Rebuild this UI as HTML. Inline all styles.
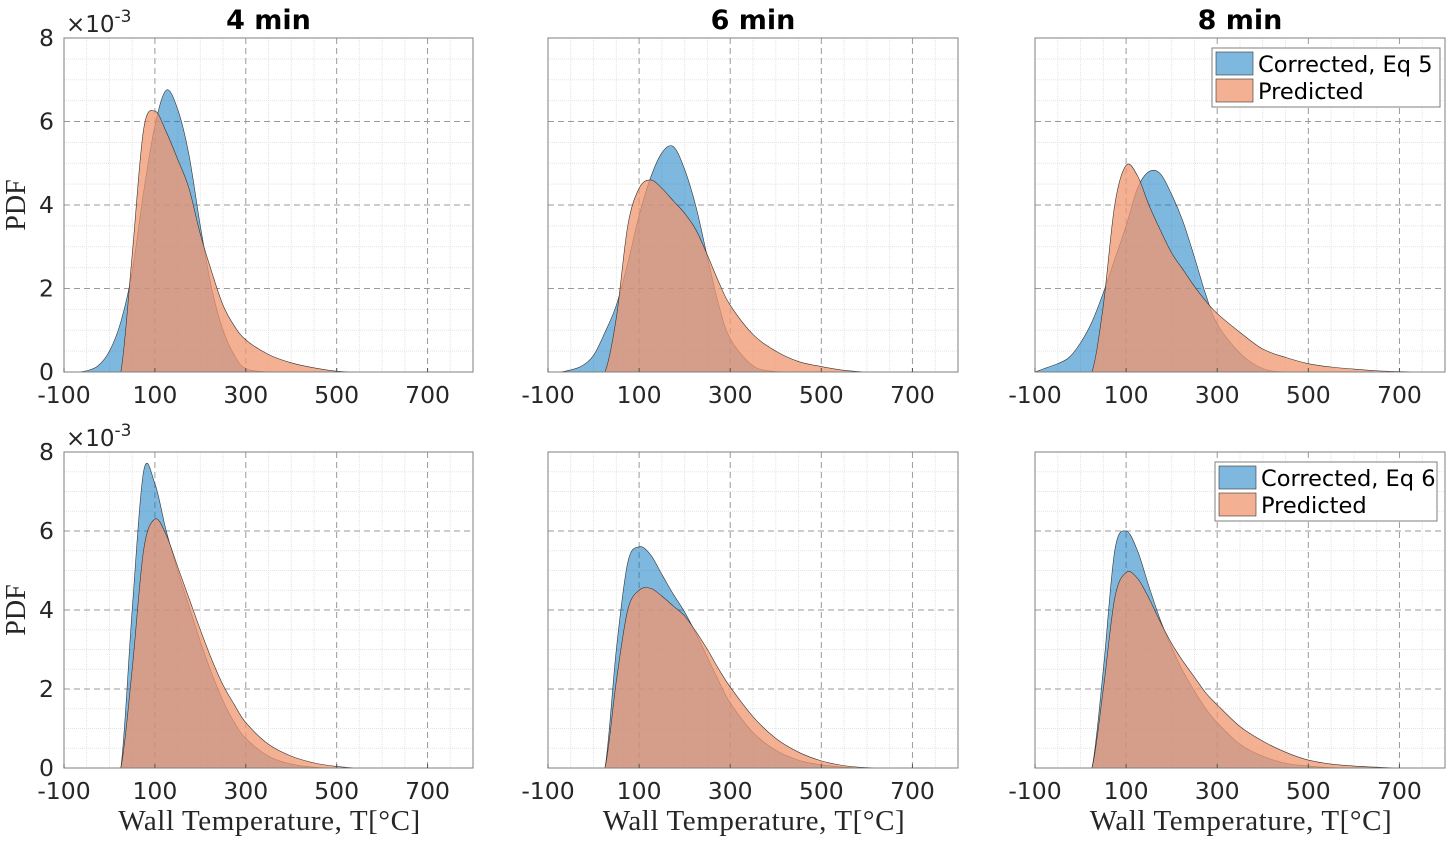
<!DOCTYPE html>
<html><head><meta charset="utf-8"><style>
html,body{margin:0;padding:0;background:#fff;}
svg{display:block;}
</style></head><body>
<svg id="fig" width="1453" height="844" viewBox="0 0 1453 844" xmlns="http://www.w3.org/2000/svg"></svg>
<script>
const temps = [-100,-75,-50,-25,0,25,50,75,100,125,150,175,200,225,250,275,300,350,400,450,500,550,600,650,700,750,800];
// Values in units of 1e-3
const corr4top = [0,0,0.03,0.15,0.5,1.2,2.4,4.3,5.9,6.75,6.3,5.2,3.5,2.0,1.0,0.4,0.08,0,0,0,0,0,0,0,0,0,0];
const pred4top = [0,0,0,0,0,0,2.8,5.8,6.25,5.75,5.1,4.4,3.3,2.4,1.6,1.1,0.77,0.42,0.22,0.1,0.02,0,0,0,0,0,0];
const corr6top = [0,0,0.05,0.15,0.4,0.95,1.6,2.6,3.75,4.65,5.25,5.4,4.85,3.95,2.75,1.6,0.8,0.15,0.01,0,0,0,0,0,0,0,0];
const pred6top = [0,0,0,0,0,0,1.3,3.5,4.4,4.6,4.4,4.1,3.8,3.4,2.8,2.15,1.6,0.9,0.5,0.25,0.13,0.04,0,0,0,0,0];
const corr8top = [0,0.1,0.2,0.35,0.7,1.2,1.9,2.7,3.5,4.4,4.8,4.75,4.25,3.6,2.75,1.85,1.15,0.45,0.08,0,0,0,0,0,0,0,0];
const pred8top = [0,0,0,0,0,0,1.6,4.0,4.95,4.7,4.0,3.4,2.85,2.45,2.05,1.7,1.4,0.95,0.55,0.35,0.2,0.12,0.07,0.03,0.01,0,0];
const corr4bot = [0,0,0,0,0,0,4.0,7.5,7.2,6.0,5.0,4.1,3.2,2.4,1.7,1.15,0.75,0.3,0.1,0.02,0,0,0,0,0,0,0];
const pred4bot = [0,0,0,0,0,0,2.5,5.5,6.3,5.9,5.1,4.3,3.5,2.75,2.1,1.6,1.15,0.6,0.3,0.13,0.04,0,0,0,0,0,0];
const corr6bot = [0,0,0,0,0,0,3.0,5.2,5.6,5.4,4.9,4.4,3.95,3.4,2.8,2.2,1.65,0.9,0.45,0.2,0.08,0.02,0,0,0,0,0];
const pred6bot = [0,0,0,0,0,0,2.2,4.0,4.5,4.55,4.35,4.1,3.85,3.45,3.0,2.5,2.05,1.3,0.75,0.4,0.18,0.06,0.01,0,0,0,0];
const corr8bot = [0,0,0,0,0,0,2.5,5.5,6.0,5.5,4.6,3.75,3.05,2.45,1.95,1.5,1.15,0.6,0.3,0.12,0.05,0.01,0,0,0,0,0];
const pred8bot = [0,0,0,0,0,0,2.0,4.3,4.95,4.8,4.3,3.7,3.15,2.7,2.3,1.9,1.6,1.05,0.68,0.4,0.2,0.1,0.05,0.02,0,0,0];
const xTicks = [-100,100,300,500,700];
const yTicks = [0,2,4,6,8];
const titles = ["4 min","6 min","8 min"];

const NS="http://www.w3.org/2000/svg";
const svg=document.getElementById('fig');
function mk(tag,attrs,parent){const e=document.createElementNS(NS,tag);for(const k in attrs)e.setAttribute(k,attrs[k]);(parent||svg).appendChild(e);return e;}

const panels=[
 {x0:64,y0:38,w:409,h:334,c:corr4top,p:pred4top,row:0,col:0},
 {x0:548,y0:38,w:410,h:334,c:corr6top,p:pred6top,row:0,col:1},
 {x0:1035,y0:38,w:410,h:334,c:corr8top,p:pred8top,row:0,col:2},
 {x0:64,y0:452,w:409,h:316,c:corr4bot,p:pred4bot,row:1,col:0},
 {x0:548,y0:452,w:410,h:316,c:corr6bot,p:pred6bot,row:1,col:1},
 {x0:1035,y0:452,w:410,h:316,c:corr8bot,p:pred8bot,row:1,col:2}
];
const FONT='"DejaVu Sans","Liberation Sans",sans-serif';
const SERIF='"Liberation Serif","DejaVu Serif",serif';
const BLUE='rgba(0,114,189,0.5)';
const ORANGE='rgba(240,150,110,0.75)';

panels.forEach((P,i)=>{
  const g=mk('g',{});
  
  
  const xs=t=>P.x0+(t+100)/900*P.w;
  const ys=v=>P.y0+P.h-v/8*P.h;
  mk('rect',{x:P.x0,y:P.y0,width:P.w,height:P.h,fill:'#fff'},g);
  for(let t=-50;t<800;t+=50){ if((t+100)%200===0) continue;
    mk('line',{x1:xs(t),x2:xs(t),y1:P.y0,y2:P.y0+P.h,stroke:'#e3e3e3','stroke-width':1,'stroke-dasharray':'1 1'},g);}
  for(let v=0.5;v<8;v+=0.5){ if(v%2===0) continue;
    mk('line',{x1:P.x0,x2:P.x0+P.w,y1:ys(v),y2:ys(v),stroke:'#e3e3e3','stroke-width':1,'stroke-dasharray':'1 1'},g);}
  xTicks.forEach(t=>{ if(t>-100) mk('line',{x1:xs(t),x2:xs(t),y1:P.y0,y2:P.y0+P.h,stroke:'#9a9a9a','stroke-width':1,'stroke-dasharray':'6 4'},g);});
  yTicks.forEach(v=>{ if(v>0&&v<8) mk('line',{x1:P.x0,x2:P.x0+P.w,y1:ys(v),y2:ys(v),stroke:'#9a9a9a','stroke-width':1,'stroke-dasharray':'6 4'},g);});
  const cid='clip'+i;
  const cp=mk('clipPath',{id:cid},g); mk('rect',{x:P.x0,y:P.y0,width:P.w,height:P.h},cp);
  function area(vals){
    const pts=temps.map((t,k)=>[xs(t),ys(vals[k])]);
    let d='M'+pts[0][0]+','+ys(0)+' L'+pts[0][0]+','+pts[0][1];
    for(let k=0;k<pts.length-1;k++){
      const p0=pts[Math.max(0,k-1)],p1=pts[k],p2=pts[k+1],p3=pts[Math.min(pts.length-1,k+2)];
      const c1=[p1[0]+(p2[0]-p0[0])/6,p1[1]+(p2[1]-p0[1])/6];
      const c2=[p2[0]-(p3[0]-p1[0])/6,p2[1]-(p3[1]-p1[1])/6];
      d+=' C'+c1[0].toFixed(2)+','+Math.min(c1[1],ys(0)).toFixed(2)+' '+c2[0].toFixed(2)+','+Math.min(c2[1],ys(0)).toFixed(2)+' '+p2[0].toFixed(2)+','+p2[1].toFixed(2);
    }
    d+=' L'+pts[pts.length-1][0]+','+ys(0)+' Z';
    return d;
  }
  const cg=mk('g',{'clip-path':'url(#'+cid+')'},g);
  const a1=mk('path',{d:area(P.c),fill:BLUE,stroke:'#333','stroke-width':0.6},cg);
  
  
  const a2=mk('path',{d:area(P.p),fill:ORANGE,stroke:'#333','stroke-width':0.6},cg);
  
  
  mk('rect',{x:P.x0,y:P.y0,width:P.w,height:P.h,fill:'none',stroke:'#7f7f7f','stroke-width':1},g);
  xTicks.forEach(t=>{
    const tl=mk('text',{x:xs(t),y:P.y0+P.h+31,'text-anchor':'middle','font-family':FONT,'font-size':23.5,fill:'#262626'},g);
    tl.textContent=t;
    
    
    mk('line',{x1:xs(t),x2:xs(t),y1:P.y0+P.h,y2:P.y0+P.h-4,stroke:'#555'},g);
  });
  if(P.col===0){
    yTicks.forEach(v=>{
      const tl=mk('text',{x:P.x0-10,y:ys(v)+8,'text-anchor':'end','font-family':FONT,'font-size':23.5,fill:'#262626'},g);
      tl.textContent=v;
      
      
    });
    const ex=mk('text',{x:P.x0+2,y:P.y0-6,'font-family':FONT,'font-size':23,fill:'#262626'},g);
    ex.innerHTML='×10<tspan dy="-10" font-size="17">-3</tspan>';
    
    
    const yl=mk('text',{x:0,y:0,transform:'translate('+(P.x0-39)+','+(P.y0+P.h/2)+') rotate(-90)','text-anchor':'middle','font-family':SERIF,'font-size':28,fill:'#262626'},g);
    yl.textContent='PDF';
    
    
  }
  if(P.row===0){
    const tt=mk('text',{x:P.x0+P.w/2,y:29,'text-anchor':'middle','font-family':FONT,'font-size':27,'font-weight':'bold',fill:'#000'},g);
    tt.textContent=titles[P.col];
    
    
  } else {
    const xl=mk('text',{x:P.x0+P.w/2+1,y:830,'text-anchor':'middle','font-family':SERIF,'font-size':29,'letter-spacing':'0.6',fill:'#262626'},g);
    xl.textContent='Wall Temperature, T[°C]';
    
    
  }
  if(P.col===2){
    const lx=P.row===0?1212:1215, ly=P.row===0?48:462, lw=P.row===0?228:222;
    const lg=mk('g',{},g);
    
    
    mk('rect',{x:lx,y:ly,width:lw,height:59,fill:'#fff',stroke:'#7f7f7f','stroke-width':1},lg);
    mk('rect',{x:lx+4,y:ly+4,width:37,height:23,fill:BLUE,stroke:'#333','stroke-width':0.6},lg);
    mk('rect',{x:lx+4,y:ly+31,width:37,height:23,fill:ORANGE,stroke:'#333','stroke-width':0.6},lg);
    const t1=mk('text',{x:lx+46,y:ly+24,'font-family':FONT,'font-size':22.5,fill:'#000'},lg);
    t1.textContent=P.row===0?'Corrected, Eq 5':'Corrected, Eq 6';
    
    
    const t2=mk('text',{x:lx+46,y:ly+51,'font-family':FONT,'font-size':22.5,fill:'#000'},lg);
    t2.textContent='Predicted';
    
    
  }
});
</script>
</body></html>
